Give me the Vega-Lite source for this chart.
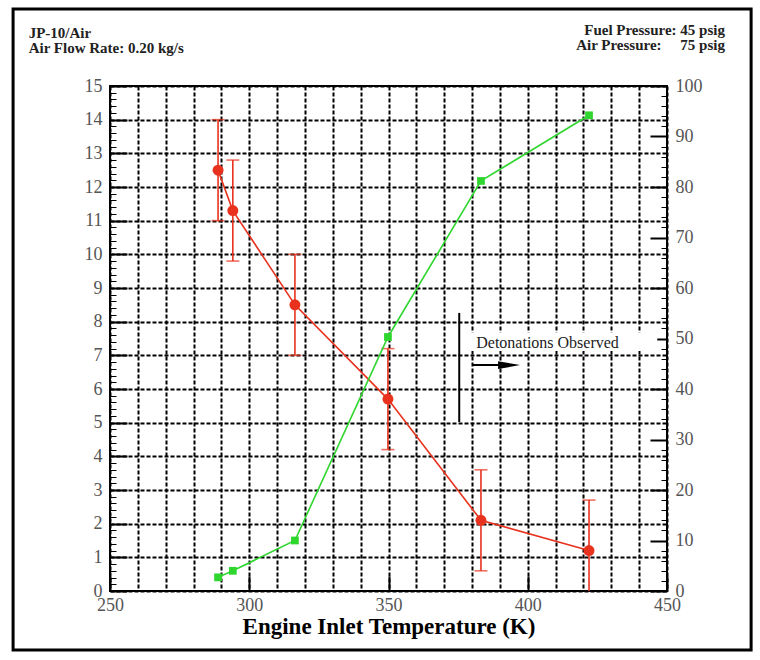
{
  "$schema": "https://vega.github.io/schema/vega-lite/v6.json",
  "width": 557,
  "height": 505,
  "autosize": {"type": "none"},
  "padding": {"left": 110, "top": 86, "right": 93, "bottom": 69},
  "background": "white",
  "config": {
    "view": {"stroke": "black", "strokeWidth": 2},
    "font": "Liberation Serif",
    "text": {"font": "Liberation Serif"}
  },
  "datasets": {
    "thrust": [
      {"T": 288.8, "v": 12.5, "lo": 11.0, "hi": 14.0},
      {"T": 294.1, "v": 11.3, "lo": 9.8, "hi": 12.8},
      {"T": 316.4, "v": 8.5, "lo": 7.0, "hi": 10.0},
      {"T": 349.8, "v": 5.7, "lo": 4.2, "hi": 7.2},
      {"T": 383.2, "v": 2.1, "lo": 0.6, "hi": 3.6},
      {"T": 422.0, "v": 1.2, "lo": -0.3, "hi": 2.7}
    ],
    "freq": [
      {"T": 288.8, "p": 2.7},
      {"T": 294.1, "p": 4.0},
      {"T": 316.4, "p": 10.0},
      {"T": 349.8, "p": 50.3},
      {"T": 383.2, "p": 81.2},
      {"T": 422.0, "p": 94.2}
    ],
    "header": [
      {"side": "left", "T": 220.8, "y": 16.43, "label": "JP-10/Air"},
      {"side": "left", "T": 220.8, "y": 15.99, "label": "Air Flow Rate: 0.20 kg/s"},
      {"side": "right", "T": 470.8, "y": 16.51, "label": "Fuel Pressure: 45 psig"},
      {"side": "right", "T": 470.8, "y": 16.06, "label": "Air Pressure:\u00a0\u00a0\u00a0\u00a0 75 psig"}
    ]
  },
  "layer": [
    {
      "layer": [
        {
          "data": {"values": [{}]},
          "mark": {"type": "rect", "fill": null, "stroke": "black", "strokeWidth": 3},
          "encoding": {
            "x": {"datum": 215.2, "type": "quantitative"},
            "x2": {"datum": 480.2},
            "y": {"datum": 17.29, "type": "quantitative"},
            "y2": {"datum": -1.75}
          }
        },
        {
          "data": {"name": "thrust"},
          "mark": {"type": "rule", "color": "#e8321e", "strokeWidth": 1.6, "clip": true},
          "encoding": {
            "x": {"field": "T", "type": "quantitative"},
            "y": {"field": "lo", "type": "quantitative"},
            "y2": {"field": "hi"}
          }
        },
        {
          "data": {"name": "thrust"},
          "mark": {"type": "tick", "orient": "horizontal", "color": "#e8321e", "size": 13, "thickness": 1.6, "clip": true},
          "encoding": {
            "x": {"field": "T", "type": "quantitative"},
            "y": {"field": "hi", "type": "quantitative"}
          }
        },
        {
          "data": {"name": "thrust"},
          "mark": {"type": "tick", "orient": "horizontal", "color": "#e8321e", "size": 13, "thickness": 1.6, "clip": true},
          "encoding": {
            "x": {"field": "T", "type": "quantitative"},
            "y": {"field": "lo", "type": "quantitative"}
          }
        },
        {
          "data": {"name": "thrust"},
          "mark": {"type": "line", "color": "#e8321e", "strokeWidth": 1.6, "point": {"filled": true, "size": 120, "color": "#e8321e"}},
          "encoding": {
            "x": {
              "field": "T",
              "type": "quantitative",
              "scale": {"domain": [250, 450], "nice": false, "zero": false},
              "axis": {
                "title": "Engine Inlet Temperature (K)",
                "titleFont": "Liberation Serif",
                "titleFontSize": 23,
                "titleFontWeight": "bold",
                "titleColor": "black",
                "titlePadding": -14,
                "tickCount": 100,
                "values": [250, 260, 270, 280, 290, 300, 310, 320, 330, 340, 350, 360, 370, 380, 390, 400, 410, 420, 430, 440, 450],
                "labelExpr": "datum.value % 50 === 0 ? datum.label : ''",
                "labelFont": "Liberation Serif",
                "labelFontSize": 18,
                "labelColor": "#555555",
                "labelPadding": 20,
                "labelOverlap": false,
                "labelFlush": false,
                "domain": false,
                "tickColor": "black",
                "tickWidth": 2,
                "tickSize": {"condition": {"test": "datum.value % 50 === 0", "value": -15}, "value": 0},
                "grid": true,
                "gridColor": "black",
                "gridWidth": 2,
                "gridDash": [4, 2]
              }
            },
            "y": {
              "field": "v",
              "type": "quantitative",
              "scale": {"domain": [0, 15], "nice": false},
              "axis": {
                "title": null,
                "orient": "left",
                "tickCount": 200,
                "values": [0, 0.2, 0.4, 0.6, 0.8, 1, 1.2, 1.4, 1.6, 1.8, 2, 2.2, 2.4, 2.6, 2.8, 3, 3.2, 3.4, 3.6, 3.8, 4, 4.2, 4.4, 4.6, 4.8, 5, 5.2, 5.4, 5.6, 5.8, 6, 6.2, 6.4, 6.6, 6.8, 7, 7.2, 7.4, 7.6, 7.8, 8, 8.2, 8.4, 8.6, 8.8, 9, 9.2, 9.4, 9.6, 9.8, 10, 10.2, 10.4, 10.6, 10.8, 11, 11.2, 11.4, 11.6, 11.8, 12, 12.2, 12.4, 12.6, 12.8, 13, 13.2, 13.4, 13.6, 13.8, 14, 14.2, 14.4, 14.6, 14.8, 15],
                "labelExpr": "abs(datum.value - round(datum.value)) < 0.001 ? format(datum.value, 'd') : ''",
                "labelFont": "Liberation Serif",
                "labelFontSize": 18,
                "labelColor": "#555555",
                "labelPadding": 25,
                "labelOverlap": false,
                "labelFlush": false,
                "domain": false,
                "tickColor": "black",
                "tickWidth": {"condition": {"test": "abs(datum.value - round(datum.value)) < 0.001", "value": 2}, "value": 1},
                "tickSize": {"condition": {"test": "abs(datum.value - round(datum.value)) < 0.001", "value": -17}, "value": -6},
                "grid": true,
                "gridColor": "black",
                "gridWidth": 2,
                "gridDash": [4, 2],
                "gridOpacity": {"condition": {"test": "abs(datum.value - round(datum.value)) < 0.001", "value": 1}, "value": 0}
              }
            }
          }
        },
        {
          "data": {"values": [{}]},
          "mark": {"type": "rect", "color": "white"},
          "encoding": {
            "x": {"datum": 379.2, "type": "quantitative"},
            "x2": {"datum": 446.5},
            "y": {"datum": 7.13, "type": "quantitative"},
            "y2": {"datum": 7.68}
          }
        },
        {
          "data": {"values": [{}]},
          "mark": {"type": "rule", "color": "black", "strokeWidth": 2},
          "encoding": {
            "x": {"datum": 375.4, "type": "quantitative"},
            "y": {"datum": 5.02, "type": "quantitative"},
            "y2": {"datum": 8.26}
          }
        },
        {
          "data": {"values": [{}]},
          "mark": {"type": "rule", "color": "black", "strokeWidth": 2},
          "encoding": {
            "x": {"datum": 380.3, "type": "quantitative"},
            "x2": {"datum": 392},
            "y": {"datum": 6.71, "type": "quantitative"}
          }
        },
        {
          "data": {"values": [{}]},
          "mark": {"type": "point", "shape": "M-1,-0.36L1,0L-1,0.36Z", "filled": true, "color": "black", "size": 484, "opacity": 1},
          "encoding": {
            "x": {"datum": 393.3, "type": "quantitative"},
            "y": {"datum": 6.71, "type": "quantitative"}
          }
        },
        {
          "data": {"values": [{"T": 381.5, "y": 7.22, "label": "Detonations Observed"}]},
          "mark": {"type": "text", "align": "left", "baseline": "alphabetic", "fontSize": 16, "color": "#222222"},
          "encoding": {
            "x": {"field": "T", "type": "quantitative"},
            "y": {"field": "y", "type": "quantitative"},
            "text": {"field": "label"}
          }
        },
        {
          "data": {"name": "header"},
          "transform": [{"filter": "datum.side === 'left'"}],
          "mark": {"type": "text", "align": "left", "baseline": "alphabetic", "fontSize": 15, "fontWeight": "bold", "color": "#222222"},
          "encoding": {
            "x": {"field": "T", "type": "quantitative"},
            "y": {"field": "y", "type": "quantitative"},
            "text": {"field": "label"}
          }
        },
        {
          "data": {"name": "header"},
          "transform": [{"filter": "datum.side === 'right'"}],
          "mark": {"type": "text", "align": "right", "baseline": "alphabetic", "fontSize": 15, "fontWeight": "bold", "color": "#222222"},
          "encoding": {
            "x": {"field": "T", "type": "quantitative"},
            "y": {"field": "y", "type": "quantitative"},
            "text": {"field": "label"}
          }
        }
      ]
    },
    {
      "data": {"name": "freq"},
      "mark": {"type": "line", "color": "#2ed62e", "strokeWidth": 1.6, "point": {"filled": true, "shape": "square", "size": 60, "color": "#2ed62e"}},
      "encoding": {
        "x": {"field": "T", "type": "quantitative"},
        "y": {
          "field": "p",
          "type": "quantitative",
          "scale": {"domain": [0, 100], "nice": false},
          "axis": {
            "title": null,
            "orient": "right",
            "tickCount": 200,
            "values": [0, 2, 4, 6, 8, 10, 12, 14, 16, 18, 20, 22, 24, 26, 28, 30, 32, 34, 36, 38, 40, 42, 44, 46, 48, 50, 52, 54, 56, 58, 60, 62, 64, 66, 68, 70, 72, 74, 76, 78, 80, 82, 84, 86, 88, 90, 92, 94, 96, 98, 100],
            "labelExpr": "datum.value % 10 === 0 ? format(datum.value, 'd') : ''",
            "labelFont": "Liberation Serif",
            "labelFontSize": 18,
            "labelColor": "#555555",
            "labelPadding": 25,
            "labelOverlap": false,
            "labelFlush": false,
            "domain": false,
            "grid": false,
            "tickColor": "black",
            "tickWidth": {"condition": {"test": "datum.value % 10 === 0", "value": 2}, "value": 1},
            "tickSize": {"condition": {"test": "datum.value % 10 === 0", "value": -17}, "value": -6}
          }
        }
      }
    }
  ],
  "resolve": {"scale": {"y": "independent"}}
}
